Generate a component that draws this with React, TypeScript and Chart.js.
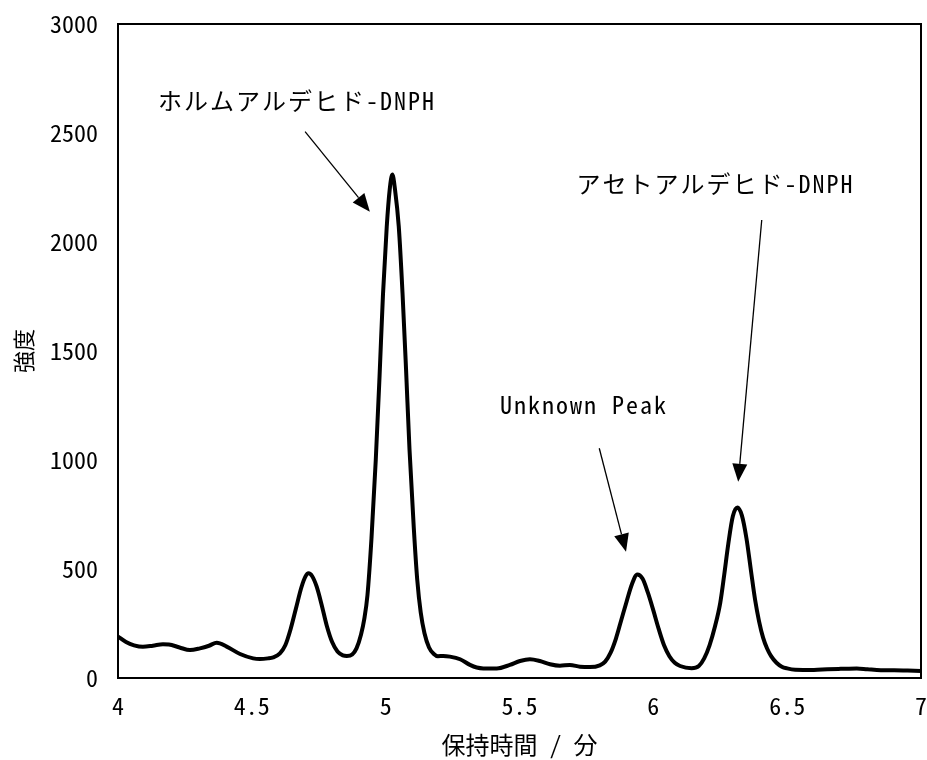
import React, { useEffect, useRef } from "react";
import { Chart, registerables } from "chart.js";

Chart.register(...registerables);

// Retention time (min)
const retentionTimes = [
  4.0, 4.03, 4.06, 4.093, 4.13, 4.168, 4.19, 4.23, 4.269, 4.306, 4.34, 4.369, 4.406,
  4.456, 4.505, 4.53, 4.56, 4.58, 4.605, 4.625, 4.645, 4.665, 4.685, 4.7, 4.712, 4.725,
  4.742, 4.76, 4.78, 4.8, 4.82, 4.84, 4.855, 4.875, 4.891, 4.908, 4.92, 4.932, 4.947,
  4.963, 4.977, 4.99, 5.004, 5.015, 5.025, 5.035, 5.049, 5.063, 5.076, 5.089,
  5.105, 5.118, 5.131, 5.145, 5.162, 5.18, 5.195, 5.215, 5.24, 5.278, 5.315, 5.34, 5.365,
  5.415, 5.464, 5.502, 5.539, 5.576, 5.614, 5.651, 5.688, 5.726, 5.763, 5.8, 5.82, 5.84,
  5.86, 5.88, 5.9, 5.92, 5.94, 5.96, 5.98, 6.0, 6.02, 6.04, 6.06, 6.08, 6.1,
  6.143, 6.17, 6.19, 6.21, 6.23, 6.25, 6.265, 6.28, 6.297, 6.314, 6.331, 6.348, 6.365,
  6.38, 6.395, 6.41, 6.425, 6.44, 6.46, 6.48, 6.5, 6.53, 6.6, 6.65, 6.7, 6.76, 6.8, 6.85,
  6.9, 6.95, 7.0,
];

// Intensity
const intensities = [
  190, 165, 150, 143, 148, 155, 154, 140, 128, 136, 148, 162, 144,
  110, 90, 87, 90, 95, 113, 150, 225, 320, 415, 465, 480, 468,
  420, 340, 240, 165, 122, 104, 101, 108, 136, 200, 270, 380, 640,
  1000, 1380, 1760, 2070, 2240, 2310, 2240, 2070, 1765, 1420, 1050,
  690, 450, 300, 205, 140, 110, 100, 101, 98, 86, 60, 48, 44,
  44, 60, 78, 86, 78, 63, 56, 60, 52, 50, 58, 75, 115,
  180, 265, 350, 430, 475, 455, 390, 310, 225, 150, 100, 70, 55,
  45, 55, 90, 150, 235, 345, 475, 615, 742, 782, 745, 640, 490,
  360, 260, 185, 135, 100, 70, 52, 44, 38, 37, 40, 42, 44, 40, 36,
  36, 34, 32,
];

const xTickValues = [4, 4.5, 5, 5.5, 6, 6.5, 7];
const yTickValues = [0, 500, 1000, 1500, 2000, 2500, 3000];

const xTitle = "保持時間 / 分";
const yTitle = "強度";

const annotationTexts = ["ホルムアルデヒド-DNPH", "アセトアルデヒド-DNPH", "Unknown Peak"];
// label anchor (left, middle) in data units [time, intensity]
const annotationTextX = [4.149, 5.713, 5.427];
const annotationTextY = [2647, 2266, 1252];
// arrows in data units
const arrowStartX = [4.699, 6.405, 5.798];
const arrowStartY = [2506, 2101, 1054];
const arrowEndX = [4.941, 6.317, 5.898];
const arrowEndY = [2139, 900, 579];

const JP = "'Noto Sans Mono CJK JP', 'Noto Sans CJK JP', sans-serif";

const overlayPlugin = {
  id: "overlay",
  afterDatasetsDraw(chart: any) {
    const { ctx, chartArea: a, scales } = chart;
    const xs = scales.x;
    const ys = scales.y;
    ctx.save();
    ctx.strokeStyle = "#000";
    ctx.lineWidth = 2;
    ctx.strokeRect(a.left, a.top, a.right - a.left, a.bottom - a.top);

    // arrows
    for (let i = 0; i < arrowStartX.length; i++) {
      const x0 = xs.getPixelForValue(arrowStartX[i]);
      const y0 = ys.getPixelForValue(arrowStartY[i]);
      const x1 = xs.getPixelForValue(arrowEndX[i]);
      const y1 = ys.getPixelForValue(arrowEndY[i]);
      const ang = Math.atan2(y1 - y0, x1 - x0);
      const headLen = 18;
      const headHalf = 7.5;
      const bx = x1 - headLen * Math.cos(ang);
      const by = y1 - headLen * Math.sin(ang);
      ctx.lineWidth = 1.3;
      ctx.beginPath();
      ctx.moveTo(x0, y0);
      ctx.lineTo(bx, by);
      ctx.stroke();
      ctx.beginPath();
      ctx.moveTo(x1, y1);
      ctx.lineTo(bx + headHalf * Math.sin(ang), by - headHalf * Math.cos(ang));
      ctx.lineTo(bx - headHalf * Math.sin(ang), by + headHalf * Math.cos(ang));
      ctx.closePath();
      ctx.fillStyle = "#000";
      ctx.fill();
    }

    // labels
    ctx.font = `24px ${JP}`;
    ctx.fillStyle = "#000";
    ctx.textAlign = "left";
    ctx.textBaseline = "middle";
    try {
      (ctx as any).letterSpacing = "2px";
    } catch (e) {}
    for (let i = 0; i < annotationTexts.length; i++) {
      ctx.fillText(
        annotationTexts[i],
        xs.getPixelForValue(annotationTextX[i]),
        ys.getPixelForValue(annotationTextY[i])
      );
    }
    ctx.restore();
  },
};

export default function App() {
  const canvasRef = useRef<HTMLCanvasElement | null>(null);

  useEffect(() => {
    const canvas = canvasRef.current;
    if (!canvas) return;
    const points = retentionTimes.map((t, i) => ({ x: t, y: intensities[i] }));
    const chart = new Chart(canvas, {
      type: "line",
      data: {
        datasets: [
          {
            data: points,
            borderColor: "#000",
            borderWidth: 4,
            pointRadius: 0,
            fill: false,
            cubicInterpolationMode: "monotone",
          },
        ],
      },
      options: {
        animation: false,
        responsive: false,
        events: [],
        layout: { padding: { top: 24, right: 6, left: 0, bottom: 0 } },
        plugins: {
          legend: { display: false },
          tooltip: { enabled: false },
        },
        scales: {
          x: {
            type: "linear",
            min: 4,
            max: 7,
            grid: { display: false },
            border: { display: false },
            afterBuildTicks: (s: any) => {
              s.ticks = xTickValues.map((v) => ({ value: v }));
            },
            afterFit: (s: any) => {
              s.height = 82;
              s.paddingLeft = 0;
              s.paddingRight = 0;
            },
            ticks: {
              color: "#000",
              font: { family: JP, size: 24 },
              padding: 5,
              maxRotation: 0,
              callback: (v: any) => String(v),
            },
            title: {
              display: true,
              text: xTitle,
              color: "#000",
              font: { family: JP, size: 24 },
              padding: { top: 0, bottom: 1 },
            },
          },
          y: {
            type: "linear",
            min: 0,
            max: 3000,
            grid: { display: false },
            border: { display: false },
            afterBuildTicks: (s: any) => {
              s.ticks = yTickValues.map((v) => ({ value: v }));
            },
            afterFit: (s: any) => {
              s.width = 118;
              s.paddingTop = 0;
              s.paddingBottom = 0;
            },
            ticks: {
              color: "#000",
              font: { family: JP, size: 24 },
              padding: 12,
              callback: (v: any) => String(v),
            },
            title: {
              display: true,
              text: yTitle,
              color: "#000",
              font: { family: JP, size: 22 },
              padding: { top: 10, bottom: 0 },
            },
          },
        },
      },
      plugins: [overlayPlugin],
    } as any);
    return () => chart.destroy();
  }, []);

  return (
    <div style={{ position: "absolute", left: 0, top: 0, width: 927, height: 760, background: "#fff" }}>
      <canvas ref={canvasRef} width={927} height={760} style={{ width: 927, height: 760, display: "block" }} />
    </div>
  );
}
